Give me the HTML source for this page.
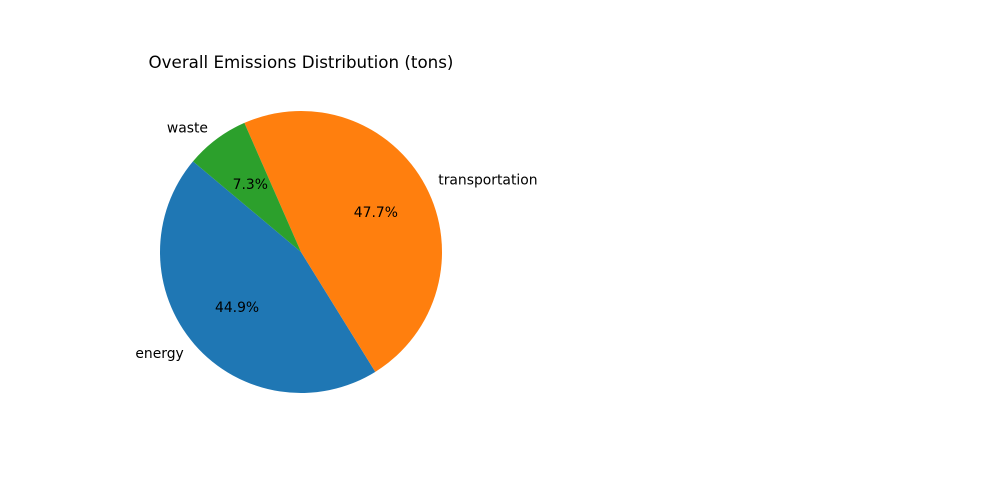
<!DOCTYPE html>
<html><head><meta charset="utf-8"><style>
html,body{margin:0;padding:0;background:#fff;}
svg{display:block;font-family:"DejaVu Sans","Liberation Sans",sans-serif;}
</style></head><body>
<svg id="chart" width="1000" height="500" viewBox="0 0 1000 500">
<rect width="1000" height="500" fill="#fff"/>
<text x="301" y="68" text-anchor="middle" font-size="16.7" fill="#000">Overall Emissions Distribution (tons)</text>
<g id="slices"></g>
</svg>
<script>
const categories = ["energy", "transportation", "waste"];
const values = [44.9, 47.7, 7.3];
const colors = ["#1f77b4", "#ff7f0e", "#2ca02c"];
const pctLabels = ["44.9%", "47.7%", "7.3%"];

const cx = 301, cy = 252, r = 141, startAngle = 140;
const g = document.getElementById('slices');
const NS = "http://www.w3.org/2000/svg";
const total = values.reduce((a, b) => a + b, 0);
function pt(deg, rad) {
  const a = deg * Math.PI / 180;
  return [cx + rad * Math.cos(a), cy - rad * Math.sin(a)];
}
let ang = startAngle;
values.forEach((v, i) => {
  const sweep = v / total * 360;
  const a0 = ang, a1 = ang + sweep;
  const p0 = pt(a0, r), p1 = pt(a1, r);
  const large = sweep > 180 ? 1 : 0;
  const path = document.createElementNS(NS, 'path');
  path.setAttribute('d', `M${cx},${cy} L${p0[0]},${p0[1]} A${r},${r} 0 ${large} 0 ${p1[0]},${p1[1]} Z`);
  path.setAttribute('fill', colors[i]);
  
  
  g.appendChild(path);
  const mid = (a0 + a1) / 2;
  const lp = pt(mid, r * 1.1);
  const cosm = Math.cos(mid * Math.PI / 180);
  const lab = document.createElementNS(NS, 'text');
  lab.setAttribute('x', lp[0]);
  lab.setAttribute('y', lp[1] + 4.5);
  lab.setAttribute('font-size', '13.9');
  lab.setAttribute('text-anchor', cosm < 0 ? 'end' : 'start');
  lab.textContent = categories[i];
  
  
  g.appendChild(lab);
  const pp = pt(mid, r * 0.6);
  const pl = document.createElementNS(NS, 'text');
  pl.setAttribute('x', pp[0]);
  pl.setAttribute('y', pp[1] + 4.5);
  pl.setAttribute('font-size', '13.9');
  pl.setAttribute('text-anchor', 'middle');
  pl.textContent = pctLabels[i];
  
  
  g.appendChild(pl);
  ang = a1;
});
</script>
</body></html>
